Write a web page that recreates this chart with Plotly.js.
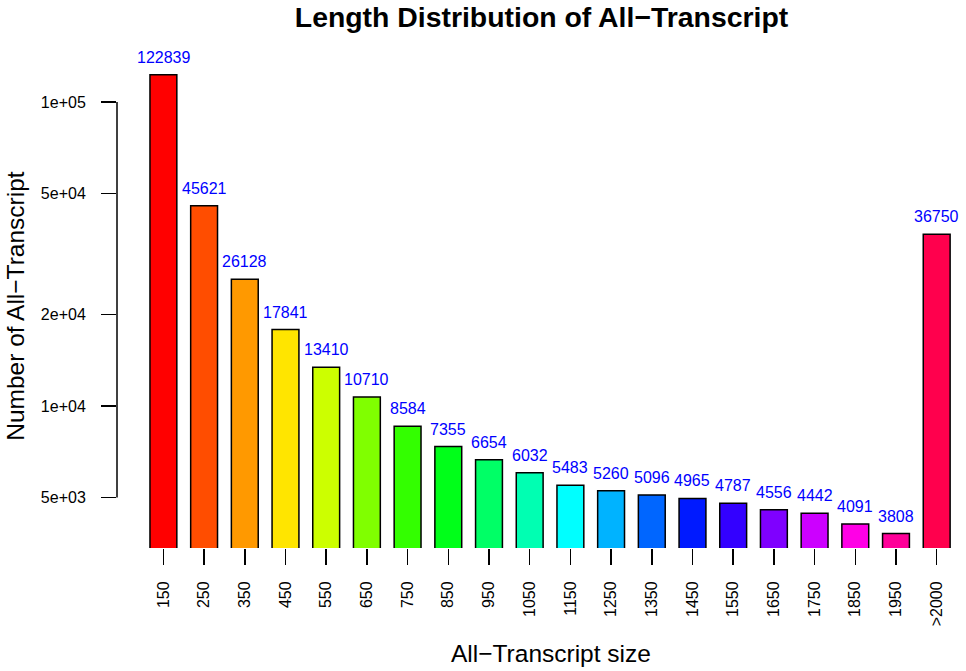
<!DOCTYPE html>
<html>
<head>
<meta charset="utf-8">
<script src="https://cdn.plot.ly/plotly-3.0.1.min.js"></script>
<style>html,body{margin:0;padding:0;background:#fff;}#chart{width:966px;height:671px;}</style>
</head>
<body>
<div id="chart"></div>
<script>
const categories = ["150","250","350","450","550","650","750","850","950","1050","1150","1250","1350","1450","1550","1650","1750","1850","1950",">2000"];
const counts = [122839,45621,26128,17841,13410,10710,8584,7355,6654,6032,5483,5260,5096,4965,4787,4556,4442,4091,3808,36750];
const barColors = ["#FF0000","#FF4D00","#FF9900","#FFE500","#CCFF00","#80FF00","#33FF00","#00FF19","#00FF66","#00FFB2","#00FFFF","#00B3FF","#0066FF","#001AFF","#3300FF","#7F00FF","#CC00FF","#FF00E6","#FF0099","#FF004D"];
const yTickVals = [5000,10000,20000,50000,100000];
const yTickText = ["5e+03","1e+04","2e+04","5e+04","1e+05"];

const FONT = "'Liberation Sans', Arial, Helvetica, sans-serif";
const yMin = 3.533, yMax = 5.204;

const trace = {
  type: 'bar',
  x: categories,
  y: counts,
  marker: {color: barColors, line: {color: '#000', width: 1.5}},
  hoverinfo: 'x+y'
};

const annotations = categories.map((c, i) => ({
  x: i, y: Math.log10(counts[i]), xref: 'x', yref: 'y',
  text: String(counts[i]), showarrow: false,
  yanchor: 'bottom', yshift: 7,
  font: {family: FONT, size: 16, color: '#0000FF'}
}));

annotations.push({
  xref: 'paper', yref: 'paper', x: 0.518, y: -0.207,
  text: 'All\u2212Transcript size', showarrow: false,
  xanchor: 'center', yanchor: 'middle',
  font: {family: FONT, size: 24.5, color: '#000'}
});
annotations.push({
  xref: 'paper', yref: 'paper', x: -0.121, y: 0.476,
  text: 'Number of All\u2212Transcript', showarrow: false, textangle: -90,
  xanchor: 'center', yanchor: 'middle',
  font: {family: FONT, size: 24.5, color: '#000'}
});

const layout = {
  width: 966, height: 671,
  margin: {l: 117, r: 11, t: 40, b: 123},
  paper_bgcolor: '#fff', plot_bgcolor: '#fff',
  showlegend: false,
  bargap: 0.34,
  title: {
    text: '<b>Length Distribution of All\u2212Transcript</b>',
    font: {family: FONT, size: 28.4, color: '#000'},
    xref: 'paper', x: 0.5066, xanchor: 'center',
    yref: 'container', y: 1 - 17/671, yanchor: 'middle'
  },
  xaxis: {
    type: 'category', range: [-1.14, 19.45],
    showgrid: false, zeroline: false, showline: false,
    ticks: 'outside', ticklen: 16, tickwidth: 1.5, tickcolor: '#000',
    tickangle: -90, ticklabelstandoff: 10,
    tickfont: {family: FONT, size: 16, color: '#000'}
  },
  yaxis: {
    type: 'log', range: [yMin, yMax],
    showgrid: false, zeroline: false, showline: false,
    tickvals: yTickVals, ticktext: yTickText,
    ticks: 'outside', ticklen: 15, tickwidth: 1.5, tickcolor: '#000',
    ticklabelstandoff: 12,
    tickfont: {family: FONT, size: 16, color: '#000'}
  },
  shapes: [{
    type: 'line', xref: 'paper', yref: 'paper', x0: 0, x1: 0,
    y0: (Math.log10(5000) - yMin) / (yMax - yMin),
    y1: (5 - yMin) / (yMax - yMin),
    line: {color: '#000', width: 1.5}
  }],
  annotations: annotations
};

Plotly.newPlot('chart', [trace], layout, {displayModeBar: false, staticPlot: true});
</script>
</body>
</html>
